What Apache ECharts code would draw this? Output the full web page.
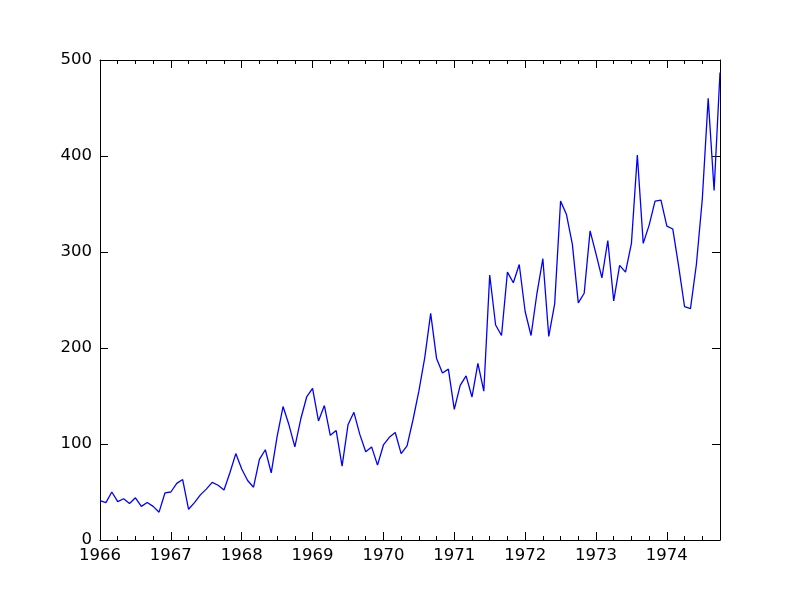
<!DOCTYPE html>
<html><head><meta charset="utf-8">
<script src="https://cdn.jsdelivr.net/npm/echarts@6/dist/echarts.min.js"></script>
<style>html,body{margin:0;background:#fff}#c{width:800px;height:600px}</style>
</head><body><div id="c"></div>
<script>
const startYear = 1966;
const values = [41,39,50,40,43,38,44,35,39,35,29,49,
50,59,63,32,39,47,53,60,57,52,70,90,
74,62,55,84,94,70,108,139,120,97,126,149,
158,124,140,109,114,77,120,133,110,92,97,78,
99,107,112,90,98,125,155,190,236,189,174,178,
136,161,171,149,184,155,276,224,213,279,268,287,
238,213,257,293,212,246,353,339,308,247,257,322,
298,273,312,249,286,279,309,401,309,328,353,354,
327,324,285,243,241,287,355,460,364,487];
const yTicks = [0,100,200,300,400,500];
const data = values.map((v,i)=>[i,v]);
const font = {fontFamily:'DejaVu Sans',fontSize:16.5,color:'#000'};
const lineS = {lineStyle:{color:'#000',width:1}};
const common = {axisLine:{show:true,onZero:false,...lineS},splitLine:{show:false}};
const chart = echarts.init(document.getElementById('c'));
chart.setOption({
  animation:false,
  grid:{left:100,right:80,top:60,bottom:60},
  xAxis:[
    {type:'value',min:0,max:values.length-1,interval:12,...common,
     axisTick:{show:true,inside:true,length:8,...lineS},
     minorTick:{show:true,splitNumber:4,length:4,lineStyle:{color:'#000'}},
     axisLabel:{...font,margin:7,formatter:v=>String(startYear+v/12),showMaxLabel:false}},
    {type:'value',position:'top',min:0,max:values.length-1,interval:12,...common,
     axisTick:{show:true,inside:true,length:8,...lineS},
     minorTick:{show:true,splitNumber:4,length:4,lineStyle:{color:'#000'}},
     axisLabel:{show:false}}
  ],
  yAxis:[
    {type:'value',min:yTicks[0],max:yTicks[yTicks.length-1],interval:100,...common,
     axisTick:{show:true,inside:true,length:8,...lineS},
     axisLabel:{...font,margin:8}},
    {type:'value',position:'right',min:yTicks[0],max:yTicks[yTicks.length-1],interval:100,...common,
     axisTick:{show:true,inside:true,length:8,...lineS},
     axisLabel:{show:false}}
  ],
  series:[{type:'line',data:data,showSymbol:false,lineStyle:{color:'#0000ff',width:1.3}}]
});
</script></body></html>
